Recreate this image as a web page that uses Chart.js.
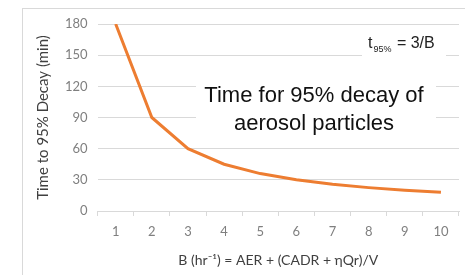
<!DOCTYPE html>
<html>
<head>
<meta charset="utf-8">
<script src="https://cdn.jsdelivr.net/npm/chart.js@4.4.1/dist/chart.umd.min.js"></script>
<style>
  html, body { margin: 0; padding: 0; background: #fff; }
  #wrap { position: relative; width: 465px; height: 275px; }
  #frame { position: absolute; left: 22px; top: 8px; width: 460px; height: 280px;
           border: 1px solid #d9d9d9; box-sizing: border-box; }
  canvas { position: absolute; left: 0; top: 0; }
</style>
</head>
<body>
<div id="wrap">
  <div id="frame"></div>
  <canvas id="chart" width="465" height="275"></canvas>
</div>
<script>
/* ---------- data ---------- */
const categories = ["1", "2", "3", "4", "5", "6", "7", "8", "9", "10"];
const decayMinutes = [180, 90, 60, 45, 36, 30, 25.7, 22.5, 20, 18];

const yTitle = "Time to 95% Decay (min)";
const xTitle = "B (hr\u207B\u00B9) = AER + (CADR + \u03B7Qr)/V";
const noteLines = ["Time for 95% decay of", "aerosol particles"];

const AXIS_FONT = "Lato, 'Open Sans', sans-serif";
const NOTE_FONT = "'Liberation Sans', Arial, sans-serif";

/* ---------- text boxes drawn over the grid ---------- */
const notes = {
  id: "notes",
  beforeDatasetsDraw(chart) {
    const ctx = chart.ctx;
    ctx.save();

    // white box behind the big caption
    ctx.fillStyle = "#fff";
    ctx.fillRect(196, 72, 240, 66);
    ctx.fillStyle = "#111";
    ctx.font = "22px " + NOTE_FONT;
    ctx.textAlign = "center";
    ctx.textBaseline = "alphabetic";
    ctx.fillText(noteLines[0], 314, 102);
    ctx.fillText(noteLines[1], 314, 130);

    // formula t95% = 3/B
    ctx.fillStyle = "#fff";
    ctx.fillRect(362, 30, 84, 28);
    ctx.fillStyle = "#222";
    ctx.textAlign = "left";
    let x = 368;
    ctx.font = "16px " + NOTE_FONT;
    ctx.fillText("t", x, 48);
    x += ctx.measureText("t").width + 1;
    ctx.font = "9px " + NOTE_FONT;
    ctx.fillText("95%", x, 52);
    x += ctx.measureText("95%").width + 1;
    ctx.font = "16px " + NOTE_FONT;
    ctx.fillText(" = 3/B", x, 48);

    ctx.restore();
  }
};

/* ---------- chart ---------- */
new Chart(document.getElementById("chart"), {
  type: "line",
  data: {
    labels: categories,
    datasets: [{
      data: decayMinutes,
      borderColor: "#ed7d31",
      borderWidth: 3,
      pointRadius: 0,
      tension: 0,
      fill: false
    }]
  },
  options: {
    responsive: false,
    animation: false,
    layout: { padding: { left: 34, right: 6, top: 24, bottom: 6 } },
    plugins: { legend: { display: false }, tooltip: { enabled: false } },
    scales: {
      x: {
        offset: true,
        afterFit: s => { s.height = 58; },
        grid: { offset: true, drawOnChartArea: false, color: "#d9d9d9", tickLength: 5 },
        border: { color: "#d9d9d9" },
        ticks: { color: "#7f7f7f", font: { family: AXIS_FONT, size: 13 }, padding: 8, maxRotation: 0 },
        title: { display: true, text: xTitle, color: "#404040",
                 font: { family: AXIS_FONT, size: 14 }, padding: { top: 7, bottom: 0 } }
      },
      y: {
        min: 0,
        max: 180,
        ticks: { stepSize: 30, color: "#7f7f7f", font: { family: AXIS_FONT, size: 13 }, padding: 10 },
        grid: { color: "#d9d9d9", drawTicks: false },
        border: { display: false },
        title: { display: true, text: yTitle, color: "#404040",
                 font: { family: AXIS_FONT, size: 15 }, padding: { top: 0, bottom: 3 } }
      }
    }
  },
  plugins: [notes]
});
</script>
</body>
</html>
